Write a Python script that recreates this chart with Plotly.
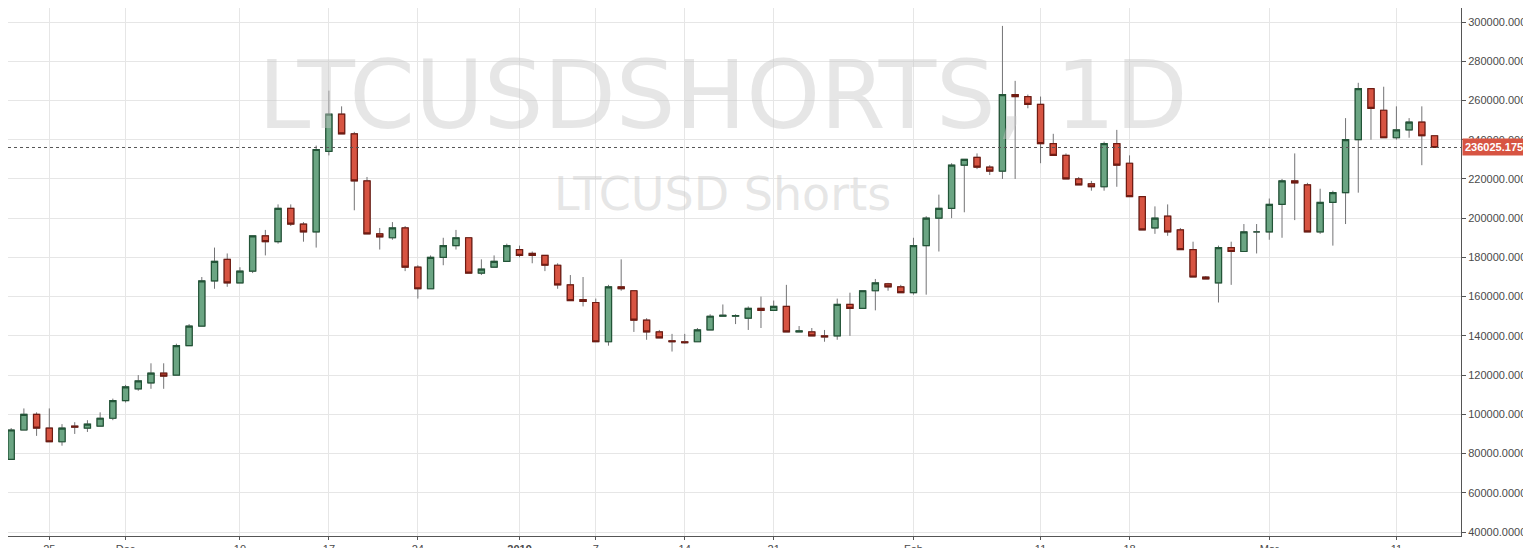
import plotly.graph_objects as go
import pandas as pd

start_date = "2018-11-22"
opens  = [77,92,100,93,86,94,93,94,98,107,113,116,121,120,135,145,168,179,167,173,191,188,205,197,193,234,253,243,219,192,190,195,175,164,180,186,190,172,175,178,184,182,181,176,166,158.5,157,137,165,163,148,142,137.5,137,137,143,150,150,149,154,153,155,142,142,140,140,156,154,163,166.5,165,162,186,200,205,227,231,226,224,263,262,258,238,232,220,217.5,216,238,228,211,195,201,194,184,170,167,185,183,193,193,207,219,217,193,208,213,240,266,255,241,245,249,242]
closes = [92,100,93,86,93,93.5,95,98,107,114,117,121,119.5,135,145,168,178,167,173,191,188,205,197,193,235,253,243,219,192,190.5,195,175,164,180,186,190,172,174,178,186,181,181,176,166,158,157.5,137,165,164,148,142,139,137,136.5,143,150,150.5,150.3,154,153,155,142,142.5,140,139.5,156,154,163,167,165,162,186,200,205,227,230,226,224,263,262,258,238,232,220,217,216,238,227,211,194,200,193,184,170,169,185,183,193,193,207,219,218,193,208,213,240,266,256,241,245,249,242,236.025]
highs  = [93,103,101,103,95,96,97,101,108,115,120,126,126,136,146,170,185,182,175,191,194,207,207,198,237,265,257,244,221,195,198,196,176,181,190,194,190,179,181,187,186,183,181,177,171,170,159,166,179,163,149,143,141,141,144,151,156,151,155,160,158,166,145,144,143,159,162,163,169,167,166,190,201,212,228,230,233,227,298,270,263,262,243,233,221,219,239,245,232,211,206,207,195,188,170.5,186,188,197,197,210,220,233,217,215,214,251,269,266,267,257,251,257,242]
lows   = [77,92,89,86,84,90,91,94,97,106,112,113,113,120,135,145,164,165,167,172,181,187,196,188,185,232,243,204,192,184,189,173,159,164,176,184,172,171,175,178,180,177,173,164,166,155,137,135,163,142,138,139,132,136,137,143,150,146,143,144,153,153,142,141,137,138,140,154,153,163,163,161,161,183,200,203,225,222,220,220,256,228,238,232,219,214,214,216,227,210,192,191,189,184,170,157,166,183,182,189,190,199,218,192,186,197,213,240,246,240,241,227,240,236]
y_ticks = list(range(40000, 300001, 20000))
x_tick_dates = ["2018-11-25","2018-12-01","2018-12-10","2018-12-17","2018-12-24","2019-01-01","2019-01-07","2019-01-14","2019-01-21","2019-02-01","2019-02-11","2019-02-18","2019-03-01","2019-03-11"]
x_tick_text = ["25","Dec","10","17","24","<b>2019</b>","7","14","21","Feb","11","18","Mar","11"]
last_price = 236025.1754

dates = pd.date_range(start_date, periods=len(opens), freq="D")
O = [v*1000 for v in opens]; C = [v*1000 for v in closes]
H = [v*1000 for v in highs]; L = [v*1000 for v in lows]
C[-1] = last_price

fig = go.Figure()
fig.add_trace(go.Candlestick(x=dates, open=O, high=H, low=L, close=C, whiskerwidth=0,
    increasing=dict(line=dict(color="#737375", width=1), fillcolor="#737375"),
    decreasing=dict(line=dict(color="#737375", width=1), fillcolor="#737375"),
    hoverinfo="skip", showlegend=False))
fig.add_trace(go.Candlestick(x=dates, open=O, close=C,
    high=[max(o, c) for o, c in zip(O, C)], low=[min(o, c) for o, c in zip(O, C)],
    increasing=dict(line=dict(color="#225437", width=1.2), fillcolor="#6BA583"),
    decreasing=dict(line=dict(color="#6F1B12", width=1.2), fillcolor="#D75442"),
    showlegend=False))

fig.add_shape(type="line", xref="paper", x0=0, x1=1, yref="y", y0=last_price, y1=last_price,
              line=dict(color="#555555", width=1, dash="dot"))
fig.add_annotation(xref="paper", x=1.0, xanchor="left", xshift=1, yref="y", y=last_price, yanchor="middle",
                   text="<b>236025.1754</b>", showarrow=False, bgcolor="#D75442",
                   font=dict(color="white", size=11, family="Liberation Sans"), borderpad=2)
fig.add_annotation(xref="paper", yref="paper", x=0.492, y=0.835, yanchor="middle", text="LTCUSDSHORTS, 1D",
                   showarrow=False, font=dict(size=94, color="rgba(200,200,200,0.45)", family="DejaVu Sans"))
fig.add_annotation(xref="paper", yref="paper", x=0.492, y=0.648, yanchor="middle", text="LTCUSD Shorts",
                   showarrow=False, font=dict(size=46, color="rgba(200,200,200,0.45)", family="DejaVu Sans"))

fig.update_layout(
    width=1531, height=548, margin=dict(l=0, r=78, t=0, b=20),
    paper_bgcolor="white", plot_bgcolor="white",
    font=dict(family="Liberation Sans", size=11, color="#4a4a4a"),
    xaxis=dict(type="date", range=["2018-11-21 18:00", "2019-03-16 02:00"],
               rangeslider=dict(visible=False), tickvals=x_tick_dates, ticktext=x_tick_text,
               showgrid=True, gridcolor="#e6e6e6", showline=True, linecolor="#555", mirror=False,
               ticks="outside", ticklen=3, tickcolor="#555", tickfont=dict(size=11)),
    yaxis=dict(side="right", range=[37963, 307137], tickvals=y_ticks, tickformat=".4f",
               showgrid=True, gridcolor="#e6e6e6", showline=True, linecolor="#555",
               ticks="outside", ticklen=4, tickcolor="#555", tickfont=dict(size=11)),
)
fig.write_html("out.html")
